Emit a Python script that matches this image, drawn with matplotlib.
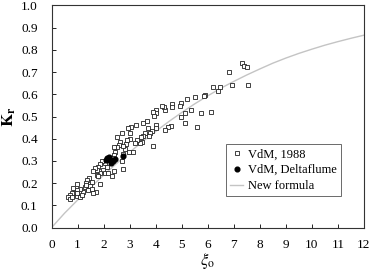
import matplotlib
matplotlib.use("Agg")
import matplotlib.pyplot as plt

# VdM, 1988 (open squares)
xi_1988 = [7.32, 7.40, 7.52, 7.55, 6.82, 6.94, 6.40, 6.48, 6.21, 6.14, 5.75, 5.60, 5.89, 5.86,
           5.52, 5.35, 5.19, 5.12, 5.12, 4.98, 4.99, 4.93, 4.63, 4.61, 4.58, 4.48, 4.35, 4.35,
           4.32, 4.23, 4.03, 4.01, 3.93, 3.91, 4.01, 4.01, 3.91, 3.84, 3.78, 3.74, 3.71, 3.65,
           3.60, 3.50, 3.50, 3.42, 3.46, 3.39, 3.29, 3.23, 3.20, 3.07, 2.95, 3.01, 3.03, 3.14,
           2.98, 2.88, 2.85, 2.82, 2.75, 2.75, 2.69, 2.50, 2.62, 2.60, 2.50, 2.43, 2.41, 2.37,
           2.39, 2.73, 2.69, 2.39, 2.34, 2.14, 2.05, 2.14, 1.98, 1.92, 1.86, 1.79, 1.86, 1.75,
           1.66, 1.60, 1.73, 1.86, 1.79, 2.05, 2.18, 1.54, 1.45, 1.37, 1.32, 1.47, 1.55, 1.70,
           1.60, 1.28, 1.41, 1.22, 1.09, 0.99, 0.96, 0.90, 0.81, 0.77, 0.70, 0.64, 0.70, 0.77,
           0.99, 1.09, 1.15, 0.99, 1.34]
kr_1988 = [0.742, 0.727, 0.724, 0.642, 0.700, 0.640, 0.613, 0.634, 0.631, 0.519, 0.516, 0.454,
           0.598, 0.594, 0.589, 0.529, 0.577, 0.517, 0.469, 0.499, 0.562, 0.547, 0.556, 0.541,
           0.457, 0.451, 0.438, 0.529, 0.544, 0.547, 0.529, 0.514, 0.502, 0.522, 0.460, 0.448,
           0.369, 0.436, 0.427, 0.412, 0.447, 0.480, 0.424, 0.412, 0.472, 0.409, 0.387, 0.379,
           0.394, 0.462, 0.382, 0.454, 0.450, 0.427, 0.397, 0.342, 0.342, 0.394, 0.376, 0.354,
           0.367, 0.331, 0.424, 0.409, 0.387, 0.372, 0.364, 0.342, 0.327, 0.312, 0.364, 0.262,
           0.300, 0.256, 0.232, 0.304, 0.289, 0.274, 0.259, 0.301, 0.286, 0.274, 0.244, 0.259,
           0.267, 0.256, 0.237, 0.195, 0.232, 0.247, 0.244, 0.207, 0.222, 0.214, 0.202, 0.187,
           0.172, 0.160, 0.157, 0.181, 0.169, 0.162, 0.174, 0.196, 0.169, 0.154, 0.177, 0.157,
           0.147, 0.136, 0.130, 0.136, 0.142, 0.139, 0.147, 0.157, 0.192]

# VdM, Deltaflume (filled circles)
xi_delta = [2.14, 2.22, 2.09, 2.27, 2.37, 2.43, 2.73, 2.30]
kr_delta = [0.313, 0.316, 0.306, 0.289, 0.300, 0.307, 0.322, 0.304]

# New formula
xi_curve = [0, 0.5, 1, 1.5, 2, 2.5, 3, 3.5, 4, 4.5, 5, 5.5, 6, 6.5, 7, 7.5, 8, 8.5, 9, 9.5,
            10, 10.5, 11, 11.5, 12]
kr_curve = [0, 0.065, 0.124, 0.181, 0.236, 0.289, 0.339, 0.388, 0.433, 0.477, 0.518, 0.557,
            0.593, 0.627, 0.658, 0.687, 0.714, 0.740, 0.763, 0.784, 0.803, 0.821, 0.837, 0.852,
            0.866]

plt.rcParams['font.family'] = ['Liberation Serif', 'DejaVu Serif']
plt.rcParams['mathtext.fontset'] = 'stix'

fig = plt.figure(figsize=(3.71, 2.70), dpi=100)
ax = fig.add_axes([0.139, 0.157, 0.842, 0.823])

ax.plot(xi_curve, kr_curve, color="#c4c4c4", linewidth=1.0, label="New formula", zorder=1)
ax.plot(xi_1988, kr_1988, linestyle="none", marker="s", markersize=3.0, markerfacecolor="white",
        markeredgecolor="#222222", markeredgewidth=0.6, label="VdM, 1988", zorder=2)
ax.plot(xi_delta, kr_delta, linestyle="none", marker="o", markersize=3.4, color="black",
        label="VdM, Deltaflume", zorder=3)

ax.set_xlim(0, 12)
ax.set_ylim(0, 1.0)
ax.set_xticks(range(0, 13))
ax.set_yticks([i / 10 for i in range(11)])
ax.set_yticklabels(["%.1f" % (i / 10) for i in range(11)])
ax.tick_params(direction="in", length=3, width=0.6, labelsize=9.5, top=False, right=False)
ax.tick_params(axis="x", pad=8)
ax.tick_params(axis="y", pad=10)
for s in ax.spines.values():
    s.set_linewidth(0.8)
    s.set_color("#333333")

ax.set_xlabel(r"$\xi_{\mathrm{o}}$", fontsize=12, labelpad=0)
ax.set_ylabel(r"$\mathbf{K_r}$", fontsize=12, labelpad=2)

h, l = ax.get_legend_handles_labels()
leg = ax.legend([h[1], h[2], h[0]], [l[1], l[2], l[0]], loc="upper left",
                bbox_to_anchor=(0.558, 0.376), fontsize=9, frameon=True, fancybox=False,
                edgecolor="#444444", handlelength=1.0, handletextpad=0.4, borderpad=0.35,
                labelspacing=0.3, borderaxespad=0)
leg.get_frame().set_linewidth(0.7)

fig.savefig("out.png", dpi=100)
